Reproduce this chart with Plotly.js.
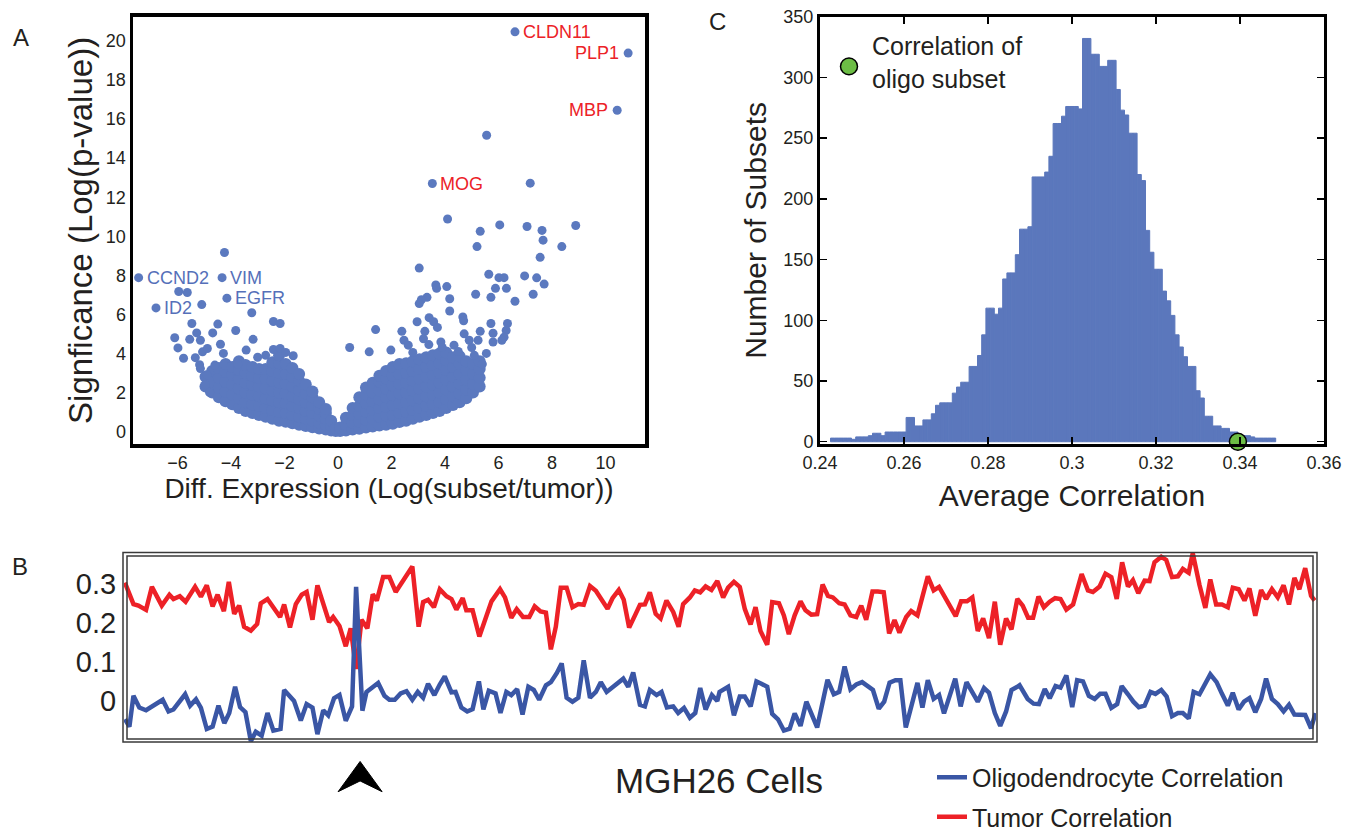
<!DOCTYPE html>
<html>
<head>
<meta charset="utf-8">
<script src="https://cdn.plot.ly/plotly-3.0.1.min.js"></script>
<style>html,body{margin:0;padding:0;background:#fff;}#chart{width:1356px;height:840px;}</style>
</head>
<body>
<div id="chart"></div>
<script>
// ---------------- Panel A: volcano plot ----------------
const geneNames = ['CLDN11','PLP1','MBP','MOG','CCND2','VIM','EGFR','ID2'];
const geneX = [6.62,10.85,10.44,3.53,-7.45,-4.33,-4.15,-6.8];
const geneY = [20.47,19.38,16.45,12.7,7.88,7.88,6.83,6.33];

const outlierX = [5.56,7.19,4.10,6.05,5.32,7.07,7.63,8.89,7.67,5.2,8.37,7.56,3.04,5.64,6.02,6.21,6.98,7.43,7.71,3.66,3.69,4.07,5.89,6.3,5.15,5.72,7.3,6.62,4.18,3.33,3.12,3.04,4.18,3.41,3.58,2.96,4.67,4.7,5.72,6.34,1.41,2.39,3.25,3.72,5.32,5.8,6.29,6.21,6.13,5.8,4.72,3.2,2.47,2.63,3.85,4.34,5.24,4.91,0.44,1.17,1.98,5.4,4.5,5.0,3.9,5.55,5.1,3.4,2.8,
  -4.24,-5.95,-5.63,-5.09,-3.22,-2.41,-2.16,-5.46,-4.49,-3.82,-6.1,-5.54,-5.28,-5.14,-4.68,-3.17,-5.98,-4.39,-5.06,-4.88,-5.77,-5.33,-5.17,-5.14,-4.28,-3.74,-3.43,-2.41,-2.16,-1.67,-1.95,-2.7,-3.0,-4.6,-4.9,-4.95,-4.8];
const outlierY = [15.17,12.72,10.88,10.58,10.25,10.5,10.3,10.55,9.8,9.47,9.47,8.92,8.37,8.05,7.88,7.88,7.97,7.87,7.55,7.5,7.33,7.42,7.33,7.33,7.03,6.87,7.03,6.67,6.8,6.87,6.75,6.55,6.17,5.83,5.62,5.62,5.87,5.67,5.53,5.53,5.22,5.13,5.13,5.33,5.13,5.03,5.17,4.83,4.67,4.58,5.0,4.75,4.67,4.42,4.58,4.42,4.67,4.67,4.3,4.08,4.17,3.45,4.1,4.3,4.3,4.0,3.9,4.45,4.05,
  9.17,7.17,7.12,6.5,6.08,5.63,5.53,5.53,5.5,5.17,4.8,4.72,5.05,4.67,5.05,4.72,4.28,4.47,4.08,4.25,3.75,3.78,3.42,3.22,4.0,3.45,4.17,4.2,4.25,3.88,4.05,3.9,3.8,3.4,2.9,2.4,2.0];

// dense cloud, read column by column
const cloudColX = [-4.95,-4.7,-4.45,-4.2,-3.95,-3.7,-3.45,-3.2,-2.95,-2.7,-2.45,-2.2,-1.95,-1.7,-1.45,-1.2,-0.95,-0.7,-0.45,-0.25,-0.08,
  0.08,0.3,0.55,0.8,1.05,1.3,1.55,1.8,2.05,2.3,2.55,2.8,3.05,3.3,3.55,3.8,4.05,4.3,4.55,4.8,5.05,5.3];
const cloudColY = [
  [2.3,2.8],[2.0,2.55,3.1],[1.75,2.25,2.75,3.25],[1.55,2.05,2.55,3.05,3.45],[1.4,1.9,2.4,2.9,3.3],
  [1.2,1.7,2.2,2.7,3.15,3.6],[1.05,1.5,2.0,2.5,3.0,3.4],[0.95,1.4,1.9,2.4,2.85,3.3],[0.85,1.3,1.8,2.3,2.75,3.2],
  [0.75,1.2,1.7,2.2,2.7,3.2],[0.65,1.1,1.6,2.1,2.6,3.1,3.55],[0.55,1.0,1.5,2.0,2.5,3.0,3.5,3.9],
  [0.5,0.95,1.45,1.95,2.45,2.95,3.45],[0.42,0.85,1.3,1.8,2.3,2.8,3.25],[0.35,0.75,1.2,1.65,2.1,2.6,2.95],
  [0.28,0.65,1.05,1.5,1.95,2.4],[0.22,0.55,0.95,1.35,1.75,2.05],[0.15,0.45,0.8,1.15,1.5],[0.1,0.35,0.65,0.95,1.15],
  [0.05,0.3,0.55],[0.02,0.18],
  [0.02,0.2],[0.05,0.35,0.7],[0.1,0.45,0.85,1.2],[0.14,0.5,0.9,1.3,1.75],[0.2,0.6,1.0,1.45,1.9,2.25],
  [0.25,0.65,1.1,1.55,2.0,2.5],[0.3,0.75,1.2,1.65,2.1,2.55,2.85],[0.35,0.8,1.25,1.75,2.2,2.7,3.1],
  [0.4,0.85,1.35,1.85,2.35,2.85,3.3],[0.48,0.95,1.45,1.95,2.45,2.95,3.45],[0.55,1.0,1.5,2.0,2.5,3.0,3.5],
  [0.65,1.1,1.6,2.1,2.6,3.1,3.6],[0.75,1.2,1.7,2.2,2.7,3.2,3.7],[0.85,1.3,1.8,2.3,2.8,3.3,3.8],
  [0.95,1.4,1.9,2.4,2.9,3.4,3.9],[1.05,1.5,2.0,2.5,3.0,3.5,4.0],[1.2,1.65,2.15,2.65,3.15,3.65,4.05],
  [1.35,1.8,2.3,2.8,3.3,3.8],[1.5,1.95,2.45,2.95,3.45,3.85],[1.7,2.15,2.65,3.15,3.6],[2.0,2.45,2.95,3.45],[2.3,2.75,3.2,3.6]
];

// ---------------- Panel B: correlation per cell ----------------
const tumorCellX = [0.2,2.1,3.2,4.9,6.2,8.4,10.1,11.0,12.4,13.7,15.8,17.1,18.4,19.7,20.8,22.2,23.3,24.5,25.6,26.7,28.2,29.6,30.4,31.9,34.7,35.6,36.9,38.2,39.5,40.6,41.9,43.0,45.6,46.5,47.9,49.3,50.4,51.6,52.8,54.1,55.3,56.2,57.6,59.0,60.4,64.1,65.5,
  66.5,67.6,68.9,70.2,71.7,72.8,73.9,75.3,76.1,77.5,79.0,81.7,83.6,84.7,86.1,87.3,88.7,90.1,91.3,92.6,93.8,94.9,96.0,97.1,98.4,99.7,101.0,102.2,103.6,104.9,107.5,108.6,110.0,111.1,112.3,113.6,114.7,115.8,116.9,118.2,119.3,120.6,122.1,123.3,124.3,125.8,126.9,128.1,129.3,130.6,131.9,
  133.2,134.3,135.6,136.9,138.0,139.3,140.4,141.5,143.0,144.1,145.6,146.7,147.8,149.1,150.4,151.5,152.8,154.1,155.3,156.5,157.6,159.0,160.2,161.5,162.8,163.9,165.0,166.4,167.6,168.9,170.1,171.3,172.4,173.9,175.0,176.4,178.7,180.0,181.2,183.6,184.9,186.1,187.4,188.6,189.8,191.0,192.3,193.6,194.8,196.1,197.3,198.6,
  199.8,201.0,202.1,203.3,204.5,205.8,207.0,208.2,209.5,211.0,212.9,214.3,215.4,216.9,218.2,219.5,220.7,221.9,223.2,224.3,225.5,226.9,228.0,229.1,230.6,231.7,233.0,234.3,235.4,236.7,237.6,239.1,240.4,241.5,242.8,244.1,245.4,246.5,247.8,249.1,250.2,251.5,252.8,253.9,255.2,256.5,257.8,259.0,260.2,261.3,262.6,263.9,264.7];
const tumorCorr = [0.303,0.248,0.244,0.233,0.292,0.244,0.272,0.261,0.268,0.254,0.292,0.267,0.296,0.242,0.272,0.230,0.305,0.223,0.244,0.190,0.180,0.197,0.250,0.261,0.215,0.247,0.188,0.248,0.272,0.279,0.208,0.296,0.202,0.215,0.192,0.140,0.186,0.082,0.208,0.186,0.273,0.257,0.317,0.317,0.279,0.344,0.190,
  0.253,0.259,0.240,0.286,0.268,0.261,0.234,0.263,0.232,0.232,0.165,0.255,0.286,0.265,0.213,0.235,0.215,0.215,0.242,0.229,0.226,0.132,0.190,0.290,0.290,0.240,0.248,0.246,0.294,0.282,0.236,0.263,0.284,0.259,0.188,0.219,0.246,0.247,0.278,0.223,0.211,0.257,0.228,0.190,0.248,0.265,0.283,0.278,0.293,0.284,0.307,
  0.265,0.290,0.305,0.292,0.236,0.196,0.240,0.179,0.144,0.253,0.250,0.219,0.171,0.219,0.255,0.232,0.221,0.222,0.298,0.269,0.265,0.250,0.247,0.219,0.215,0.244,0.208,0.280,0.280,0.278,0.173,0.207,0.175,0.215,0.230,0.219,0.319,0.283,0.292,0.244,0.217,0.255,0.255,0.265,0.179,0.211,0.161,0.254,0.144,0.211,0.183,0.261,
  0.244,0.213,0.213,0.267,0.240,0.254,0.263,0.261,0.234,0.247,0.325,0.283,0.279,0.293,0.326,0.317,0.261,0.355,0.293,0.309,0.276,0.308,0.307,0.355,0.369,0.361,0.317,0.319,0.338,0.328,0.378,0.297,0.238,0.311,0.247,0.247,0.240,0.290,0.286,0.257,0.288,0.218,0.284,0.261,0.286,0.265,0.296,0.247,0.315,0.286,0.340,0.269,0.257];

const oligoCellX = [0.2,1.2,2.1,3.4,4.9,8.6,9.9,11.0,13.6,14.7,16.0,17.1,18.4,19.7,21.0,22.3,23.4,24.7,25.8,27.0,28.2,29.3,30.6,31.9,33.2,34.8,35.6,37.8,39.3,40.6,41.9,43.0,44.3,45.4,46.7,47.9,49.3,50.7,51.6,53.0,53.9,56.5,57.9,59.0,60.2,61.5,62.8,64.1,65.3,
  66.5,67.6,69.0,70.2,71.3,72.8,73.7,75.0,76.3,77.5,78.9,79.9,81.1,82.6,83.7,85.0,86.1,87.4,88.6,89.9,91.1,92.3,93.8,94.9,96.2,97.3,98.4,99.7,101.0,102.2,103.6,104.9,106.0,107.3,108.6,111.0,112.1,113.2,114.7,115.8,116.9,118.4,119.5,120.7,122.1,123.2,124.5,125.8,127.0,128.1,129.3,130.7,131.9,
  132.4,134.3,135.6,136.9,138.0,139.3,140.6,141.7,143.0,144.1,145.4,146.7,148.0,149.1,150.4,151.7,154.1,156.4,157.8,159.0,160.2,161.5,162.8,164.1,165.3,166.5,167.8,169.0,170.2,171.5,172.6,173.8,176.4,177.5,178.7,180.0,181.2,182.3,184.8,186.0,187.3,188.5,189.8,191.2,192.3,193.6,194.8,196.1,197.3,198.6,
  199.1,200.9,202.2,203.4,204.7,205.8,207.1,208.2,209.5,210.8,211.9,213.2,214.5,215.8,217.0,218.2,219.5,220.8,221.8,223.2,224.4,225.6,226.9,228.2,229.3,230.6,231.8,233.0,234.3,235.4,236.7,237.8,239.1,241.5,242.9,244.1,245.4,246.5,247.8,249.0,250.2,251.5,252.8,253.9,255.2,256.5,257.8,259.0,260.2,262.6,263.9,264.9];
const oligoCorr = [-0.047,-0.066,0.013,-0.017,-0.024,0.003,-0.027,-0.022,0.017,-0.012,0.004,-0.018,-0.072,-0.066,-0.012,-0.057,-0.031,0.036,-0.016,-0.029,-0.103,-0.079,-0.089,-0.031,-0.076,-0.072,0.028,0.0,-0.05,-0.008,-0.017,-0.085,-0.024,-0.037,0.007,0.015,-0.051,-0.014,0.292,-0.025,0.023,0.046,0.013,0.003,0.003,0.019,0.025,0.003,0.023,
  0.008,0.044,0.015,0.042,0.063,0.022,0.023,-0.017,-0.027,-0.021,0.05,-0.022,0.026,0.019,-0.031,0.023,0.015,0.03,-0.035,0.036,0.028,0.003,0.04,0.048,0.071,0.096,0.008,-0.002,0.008,0.104,0.008,0.023,0.048,0.023,0.036,0.057,0.036,0.073,-0.01,-0.014,0.028,0.015,0.023,-0.017,-0.014,-0.031,-0.018,-0.043,-0.031,0.033,-0.022,0.015,0.0,
  0.023,0.036,-0.037,0.011,0.011,-0.014,0.05,0.044,0.036,-0.033,-0.047,-0.076,-0.071,-0.032,-0.064,-0.002,-0.068,0.054,0.017,0.023,0.088,0.03,0.042,0.048,0.038,0.028,-0.02,-0.002,0.047,0.053,0.053,-0.068,0.046,-0.017,0.053,0.005,0.015,-0.032,0.057,-0.014,0.048,0.023,-0.002,0.033,0.021,-0.031,-0.064,-0.027,0.028,0.036,
  0.04,0.005,-0.007,-0.008,0.03,0.007,0.038,0.034,0.065,-0.016,0.053,0.05,0.013,0.005,0.018,0.018,-0.018,-0.008,0.038,0.017,-0.002,-0.016,-0.012,0.023,0.018,0.028,0.011,-0.039,-0.031,-0.031,-0.045,0.023,0.017,0.068,0.048,0.018,-0.012,0.021,-0.022,-0.002,0.007,-0.029,0.005,0.057,0.005,-0.008,-0.027,-0.01,-0.035,-0.036,-0.07,-0.031];
const bTickVals = [0,0.1,0.2,0.3];
const bTickText = ['0','0.1','0.2','0.3'];

// ---------------- Panel C: histogram of subset correlations ----------------
const histBinStart = 0.2425;
const histBinWidth = 0.001;
const histCounts = [3,3,3,3,3,2,4,4,4,5, 7,7,5,8,8,8,8,8,20,20, 13,13,18,18,23,30,32,32,32,40,
  45,49,49,62,62,71,88,110,110,105, 110,134,139,139,154,175,175,177,218,218,
  218,222,235,262,262,268,276,276,276,274, 332,332,319,319,309,309,314,314,290,273,
  269,254,254,220,215,174,156,142,142,124, 116,104,88,78,70,62,62,42,36,21,
  21,13,13,11,11,8,8,5,5,5, 4,3,3,3,3,3];
const oligoSubsetCorr = 0.3395;
const oligoSubsetCount = 0;

// ---------------- build ----------------
const W = 1356, H = 840;
const px = v => v / W;
const py = v => 1 - v / H;

const cloudX = [], cloudY = [];
cloudColX.forEach((cx, i) => cloudColY[i].forEach(v => { cloudX.push(cx); cloudY.push(v); }));
const sparseX = outlierX.concat(geneX);
const sparseY = outlierY.concat(geneY);

const binCenters = histCounts.map((c, i) => histBinStart + histBinWidth * (i + 0.5));

const FONT = 'Liberation Sans, Arial, Helvetica, sans-serif';
const TXT = '#231f20';
const dotBlue = '#5b79bf';
const histBlue = '#5b77bc';

const traces = [
  {type:'scatter', mode:'markers', x:cloudX, y:cloudY, xaxis:'x', yaxis:'y',
   marker:{size:12, color:dotBlue}, cliponaxis:false, showlegend:false, hoverinfo:'skip'},
  {type:'scatter', mode:'markers', x:sparseX, y:sparseY, xaxis:'x', yaxis:'y',
   marker:{size:9, color:dotBlue}, cliponaxis:false, showlegend:false, hoverinfo:'skip'},
  {type:'bar', x:binCenters, y:histCounts, width:histBinWidth, xaxis:'x2', yaxis:'y2',
   marker:{color:histBlue, line:{width:1, color:histBlue}}, showlegend:false, hoverinfo:'skip'},
  {type:'scatter', mode:'markers', x:[oligoSubsetCorr], y:[oligoSubsetCount], xaxis:'x2', yaxis:'y2',
   marker:{size:17, color:'#6cbd45', line:{color:'#000', width:1.5}}, cliponaxis:false, showlegend:false, hoverinfo:'skip'},
  {type:'scatter', mode:'lines', x:tumorCellX, y:tumorCorr, xaxis:'x3', yaxis:'y3', legendgroup:'t', legendrank:2,
   name:'Tumor Correlation', line:{color:'#ed2127', width:4.5}},
  {type:'scatter', mode:'lines', x:oligoCellX, y:oligoCorr, xaxis:'x3', yaxis:'y3', legendgroup:'o', legendrank:1,
   name:'Oligodendrocyte Correlation', line:{color:'#3a56a5', width:4.5}}
];

const xRangeB = [0, 265];
const xDomB = [px(124), px(1316)];

const layout = {
  width: W, height: H,
  margin: {l:0, r:0, t:0, b:0},
  paper_bgcolor: '#fff', plot_bgcolor: 'rgba(0,0,0,0)',
  font: {family: FONT, color: TXT},
  showlegend: true,
  bargap: 0,
  legend: {x: px(932), y: py(773), xanchor:'left', yanchor:'top', traceorder:'grouped',
           tracegroupgap: 4, font:{size:25, color:TXT}, bgcolor:'rgba(0,0,0,0)'},
  xaxis: {domain:[px(133), px(645)], range:[-7.66, 11.48], anchor:'y',
          tickvals:[-6,-4,-2,0,2,4,6,8,10], ticks:'', showgrid:false, zeroline:false,
          showline:true, mirror:true, linewidth:3.5, linecolor:'#000',
          tickfont:{size:18, color:TXT},
          title:{text:'Diff. Expression (Log(subset/tumor))', font:{size:28, color:TXT}, standoff:6}},
  yaxis: {domain:[py(455), py(17)], range:[-0.65, 21.25], anchor:'x',
          tickvals:[0,2,4,6,8,10,12,14,16,18,20], ticks:'', showgrid:false, zeroline:false,
          showline:true, mirror:true, linewidth:3.5, linecolor:'#000',
          tickfont:{size:18, color:TXT},
          title:{text:'Signficance (Log(p-value))', font:{size:33, color:TXT}, standoff:4}},
  xaxis2: {domain:[px(820), px(1324)], range:[0.24, 0.36], anchor:'y2',
           tickvals:[0.24,0.26,0.28,0.30,0.32,0.34,0.36], ticktext:['0.24','0.26','0.28','0.3','0.32','0.34','0.36'],
           ticks:'inside', ticklen:7, tickwidth:1.5, tickcolor:'#000', mirror:'ticks',
           showline:true, linewidth:3, linecolor:'#000', showgrid:false, zeroline:false,
           tickfont:{size:18, color:TXT},
           title:{text:'Average Correlation', font:{size:30, color:TXT}, standoff:14}},
  yaxis2: {domain:[py(455), py(17)], range:[-2, 350], anchor:'x2',
           tickvals:[0,50,100,150,200,250,300,350],
           ticks:'inside', ticklen:7, tickwidth:1.5, tickcolor:'#000', mirror:'ticks',
           showline:true, linewidth:3, linecolor:'#000', showgrid:false, zeroline:false,
           tickfont:{size:18, color:TXT},
           title:{text:'Number of Subsets', font:{size:30, color:TXT}, standoff:8}},
  xaxis3: {domain:xDomB, range:xRangeB, anchor:'y3', showticklabels:false, ticks:'',
           showgrid:false, zeroline:false, showline:false},
  yaxis3: {domain:[py(760), py(566)], range:[-0.105, 0.38], anchor:'x3',
           tickvals:bTickVals, ticktext:bTickText, ticks:'outside', ticklen:1, tickcolor:'rgba(0,0,0,0)',
           showgrid:false, zeroline:false, showline:false,
           tickfont:{size:29, color:TXT}},
  annotations: [],
  shapes: []
};

// panel letters
[['A',21,38],['C',717,22],['B',20,580]].forEach(([t,x,y]) => layout.annotations.push({
  text:t, xref:'paper', yref:'paper', x:px(x), y:py(y), xanchor:'center', yanchor:'middle',
  showarrow:false, font:{size:24, color:TXT}}));

// gene labels
const labelSide = ['right','left','left','right','right','right','right','right'];
geneNames.forEach((g, i) => {
  const right = labelSide[i] === 'right';
  layout.annotations.push({
    text:g, xref:'x', yref:'y', x:geneX[i], y:geneY[i], showarrow:false,
    xanchor: right ? 'left' : 'right', yanchor:'middle', xshift: right ? 6 : -7,
    font:{size:18, color: geneX[i] > 0 ? '#ec2227' : '#5570b9'}});
});

// panel C legend text
layout.annotations.push({text:'Correlation of<br>oligo subset', xref:'paper', yref:'paper', x:px(870), y:py(64.5),
  xanchor:'left', yanchor:'middle', align:'left', showarrow:false, font:{size:25, color:TXT}});
layout.shapes.push({type:'circle', xref:'paper', yref:'paper', x0:px(840.5), x1:px(857.5), y0:py(76.5), y1:py(59.5),
  fillcolor:'#6cbd45', line:{color:'#000', width:1.5}});

// panel B frame (double border)
layout.shapes.push({type:'rect', xref:'paper', yref:'paper', x0:px(123), x1:px(1317), y0:py(760), y1:py(566),
  line:{color:'#3a3a3a', width:1.5}});
layout.shapes.push({type:'rect', xref:'paper', yref:'paper', x0:px(127), x1:px(1313), y0:py(757), y1:py(569.5),
  line:{color:'#3a3a3a', width:1.5}});

// x-axis label of panel B
layout.annotations.push({text:'MGH26 Cells', xref:'paper', yref:'paper', x:px(719), y:py(800),
  xanchor:'center', yanchor:'middle', showarrow:false, font:{size:35, color:TXT}});

// arrowhead under the oligodendrocyte-like cell (max of oligo correlation)
let spikeIdx = 0;
oligoCorr.forEach((v, i) => { if (v > oligoCorr[spikeIdx]) spikeIdx = i; });
const spikeX = oligoCellX[spikeIdx];
const ax = xDomB[0] + (spikeX - xRangeB[0]) / (xRangeB[1] - xRangeB[0]) * (xDomB[1] - xDomB[0]) + px(4);
const dx = px(22);
layout.shapes.push({type:'path', xref:'paper', yref:'paper',
  path:`M ${ax-dx},${py(811)} L ${ax},${py(780)} L ${ax+dx},${py(811)} L ${ax},${py(800)} Z`,
  fillcolor:'#000', line:{color:'#000', width:1}});

Plotly.newPlot('chart', traces, layout, {displayModeBar:false, staticPlot:true});
</script>
</body>
</html>
